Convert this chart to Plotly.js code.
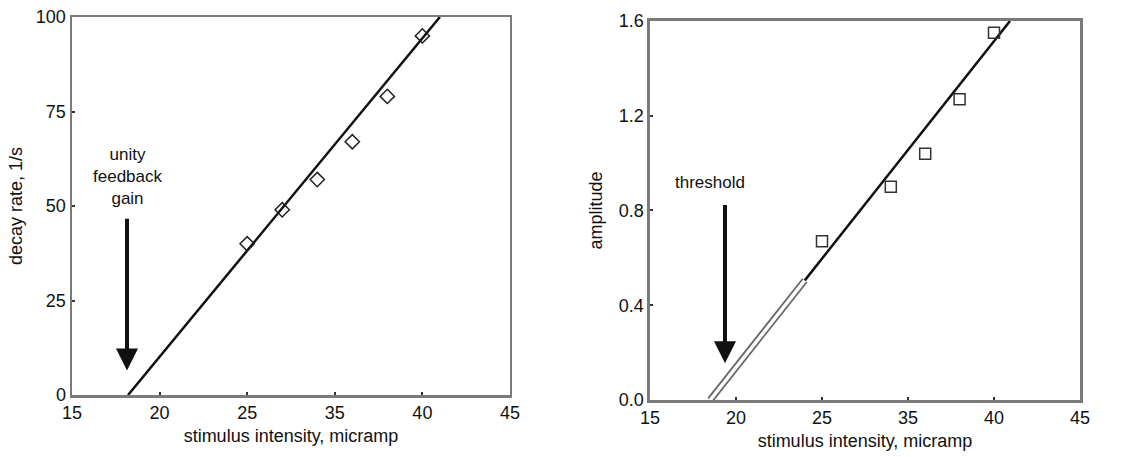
<!DOCTYPE html>
<html>
<head>
<meta charset="utf-8">
<script src="https://cdn.plot.ly/plotly-3.0.1.min.js"></script>
<style>html,body{margin:0;padding:0;background:#fff;}#chart{width:1142px;height:457px;}</style>
</head>
<body>
<div id="chart"></div>
<script>
// Tick positions (linear underlying scale) and printed labels as in the figure
var xTickVals = [15, 20, 25, 30, 35, 40];
var xTickText = ["15", "20", "25", "35", "40", "45"];

// Left panel: decay rate
var decayX = [25, 27, 29, 31, 33, 35];
var decayY = [40, 49, 57, 67, 79, 95];
var decayFitX = [18.2, 36.0];
var decayFitY = [0, 100];
var decayTicks = [0, 25, 50, 75, 100];

// Right panel: amplitude
var ampX = [25, 29, 31, 33, 35];
var ampY = [0.67, 0.90, 1.04, 1.27, 1.55];
var ampFitLowX = [18.5, 24.0];
var ampFitLowY = [0, 0.505];
var ampFitX = [24.0, 35.93];
var ampFitY = [0.505, 1.6];
var ampTicks = [0, 0.4, 0.8, 1.2, 1.6];

var font = "Liberation Sans, Arial, Helvetica, sans-serif";

var traces = [
  {x: decayFitX, y: decayFitY, xaxis: 'x', yaxis: 'y', mode: 'lines',
   line: {color: '#111', width: 2.5}, hoverinfo: 'skip'},
  {x: decayX, y: decayY, xaxis: 'x', yaxis: 'y', mode: 'markers',
   marker: {symbol: 'diamond-open', size: 11, color: '#222', line: {width: 1.5}}},
  {x: ampFitLowX, y: ampFitLowY, xaxis: 'x2', yaxis: 'y2', mode: 'lines',
   line: {color: '#666', width: 7}, hoverinfo: 'skip'},
  {x: ampFitLowX, y: ampFitLowY, xaxis: 'x2', yaxis: 'y2', mode: 'lines',
   line: {color: '#fff', width: 3.5}, hoverinfo: 'skip'},
  {x: ampFitX, y: ampFitY, xaxis: 'x2', yaxis: 'y2', mode: 'lines',
   line: {color: '#111', width: 2.5}, hoverinfo: 'skip'},
  {x: ampX, y: ampY, xaxis: 'x2', yaxis: 'y2', mode: 'markers',
   marker: {symbol: 'square-open', size: 11, color: '#333', line: {width: 1.5}}}
];

var axBase = {
  showgrid: false, zeroline: false, showline: true, mirror: true,
  linecolor: '#7a7a7a', linewidth: 2.5,
  ticks: 'inside', ticklen: 3, tickwidth: 2, tickcolor: '#333',
  tickfont: {family: font, size: 18, color: '#111'}
};
function ax(o) { return Object.assign({}, axBase, o); }

var layout = {
  width: 1142, height: 457,
  margin: {l: 72, r: 62, t: 17, b: 57},
  paper_bgcolor: '#fff', plot_bgcolor: '#fff',
  showlegend: false,
  font: {family: font, color: '#111'},
  xaxis: ax({domain: [0, 0.4345], range: [15, 40], tickvals: xTickVals, ticktext: xTickText,
    anchor: 'y',
    title: {text: 'stimulus intensity, micramp', font: {family: font, size: 18, color: '#111'}, standoff: 8}}),
  yaxis: ax({domain: [0.013, 1], range: [0, 100], tickvals: decayTicks, anchor: 'x',
    title: {text: 'decay rate, 1/s', font: {family: font, size: 18, color: '#111'}, standoff: 9}}),
  xaxis2: ax({domain: [0.5734, 1], range: [15, 40], tickvals: xTickVals, ticktext: xTickText,
    anchor: 'y2',
    title: {text: 'stimulus intensity, micramp', font: {family: font, size: 18, color: '#111'}, standoff: 8}}),
  yaxis2: ax({domain: [0, 0.9896], range: [0, 1.6], tickvals: ampTicks, tickformat: '.1f', anchor: 'x2',
    title: {text: 'amplitude', font: {family: font, size: 18, color: '#111'}, standoff: 12}}),
  annotations: [
    {xref: 'x', yref: 'y', x: 18.14, y: 57.7, text: 'unity<br>feedback<br>gain', showarrow: false,
     font: {family: font, size: 17, color: '#111'}, align: 'center'},
    {xref: 'x', yref: 'y', x: 18.14, y: 6.5, axref: 'x', ayref: 'y', ax: 18.14, ay: 47,
     text: '', showarrow: true, arrowhead: 2, arrowsize: 1.1, arrowwidth: 4, arrowcolor: '#111'},
    {xref: 'x2', yref: 'y2', x: 18.5, y: 0.92, text: 'threshold', showarrow: false,
     font: {family: font, size: 17, color: '#111'}},
    {xref: 'x2', yref: 'y2', x: 19.36, y: 0.155, axref: 'x2', ayref: 'y2', ax: 19.36, ay: 0.83,
     text: '', showarrow: true, arrowhead: 2, arrowsize: 1.1, arrowwidth: 4, arrowcolor: '#111'}
  ]
};

Plotly.newPlot('chart', traces, layout, {displayModeBar: false, staticPlot: true});
</script>
</body>
</html>
